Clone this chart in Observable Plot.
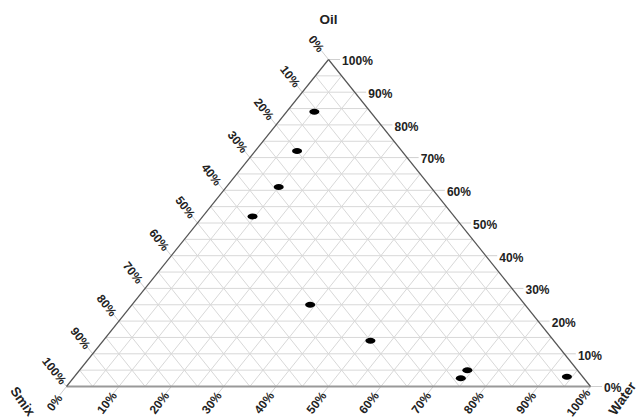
<!DOCTYPE html>
<html>
<head>
<meta charset="utf-8">
<script src="https://cdn.jsdelivr.net/npm/d3@7"></script>
<script src="https://cdn.jsdelivr.net/npm/@observablehq/plot@0.6"></script>
<style>
  html, body { margin: 0; padding: 0; background: #fff; }
  svg { display: block; }
</style>
</head>
<body>
<div id="chart"></div>
<script>
// Sample compositions (%): Oil, Water, Smix
const oil   = [84, 72, 61, 52, 25, 14, 5, 2.5, 3];
const water = [5.3, 8, 10, 9.5, 34, 51, 74, 74, 94];
const smix  = [10.7, 20, 29, 38.5, 41, 35, 21, 23.5, 3];

// Axis tick values and labels
const gridSteps = d3.range(5, 100, 5);
const labelSteps = d3.range(0, 101, 10);
const tickLabels = labelSteps.map(v => v + "%");
const cornerNames = ["Oil", "Smix", "Water"];

// ternary -> cartesian (x in [0,1], y in [0,1])
const tx = (o, w) => w + 0.5 * o;
const ty = (o) => o;

const points = oil.map((o, i) => ({ oil: o / 100, water: water[i] / 100, smix: smix[i] / 100 }))
  .map(d => ({ ...d, x: tx(d.oil, d.water), y: ty(d.oil) }));

// grid lines
const grid = [];
for (const p of gridSteps) {
  const v = p / 100;
  grid.push({ x1: 0.5 * v, y1: v, x2: 1 - 0.5 * v, y2: v });           // constant oil
  grid.push({ x1: v, y1: 0, x2: 0.5 + 0.5 * v, y2: 1 - v });            // constant water
  grid.push({ x1: 0.5 * (1 - v), y1: 1 - v, x2: 1 - v, y2: 0 });        // constant smix
}

const kT = 0.026, kL = 0.05;
const oilTicks = labelSteps.map((p, i) => {
  const v = p / 100;
  return { x1: 1 - 0.5 * v, y1: v, x2: 1 - 0.5 * v + 0.022, y2: v, lx: 1 - 0.5 * v + 0.026, ly: v, label: tickLabels[i] };
});
const waterTicks = labelSteps.map((p, i) => {
  const v = p / 100;
  return { x1: v, y1: 0, x2: v - 0.5 * kT, y2: -kT, lx: v - 0.5 * kL * 0.9, ly: -kL, label: tickLabels[i] };
});
const smixTicks = labelSteps.map((p, i) => {
  const v = p / 100;
  const x = 0.5 * (1 - v), y = 1 - v;
  return { x1: x, y1: y, x2: x - 0.5 * kT, y2: y + kT, lx: x - 0.5 * kL * 0.95, ly: y + kL * 0.95, label: tickLabels[i] };
});

const edges = [
  { x1: 0, y1: 0, x2: 0.5, y2: 1 },
  { x1: 0.5, y1: 1, x2: 1, y2: 0 }
];
const bottomEdge = [{ x1: 0, y1: 0, x2: 1, y2: 0 }];

const cornerOil = [{ x: 0.5, y: 1, name: cornerNames[0] }];
const cornerSmix = [{ x: 0, y: 0, name: cornerNames[1] }];
const cornerWater = [{ x: 1, y: 0, name: cornerNames[2] }];

// ellipse-shaped dot symbol
const ellipse = {
  draw(context, size) {
    const r = Math.sqrt(size / Math.PI);
    const rx = r, ry = r * 0.6, k = 0.5523;
    context.moveTo(rx, 0);
    context.bezierCurveTo(rx, ry * k, rx * k, ry, 0, ry);
    context.bezierCurveTo(-rx * k, ry, -rx, ry * k, -rx, 0);
    context.bezierCurveTo(-rx, -ry * k, -rx * k, -ry, 0, -ry);
    context.bezierCurveTo(rx * k, -ry, rx, -ry * k, rx, 0);
    context.closePath();
  }
};

const font = "Liberation Sans, Arial, sans-serif";
const labelStyle = { fontSize: 12, fontWeight: "bold", fill: "#222" };
const cornerStyle = { x: "x", y: "y", text: "name", fontSize: 13.5, fontWeight: "bold", fill: "#222" };

const chart = Plot.plot({
  width: 644,
  height: 420,
  marginLeft: 66,
  marginRight: 54,
  marginTop: 59,
  marginBottom: 34,
  x: { domain: [0, 1], axis: null },
  y: { domain: [0, 1], axis: null },
  style: { background: "#fff", fontFamily: font, overflow: "visible" },
  marks: [
    Plot.link(grid, { x1: "x1", y1: "y1", x2: "x2", y2: "y2", stroke: "#d8d8d8", strokeWidth: 1 }),
    Plot.link(oilTicks, { x1: "x1", y1: "y1", x2: "x2", y2: "y2", stroke: "#cfcfcf", strokeWidth: 1 }),
    Plot.link(waterTicks, { x1: "x1", y1: "y1", x2: "x2", y2: "y2", stroke: "#cfcfcf", strokeWidth: 1 }),
    Plot.link(smixTicks, { x1: "x1", y1: "y1", x2: "x2", y2: "y2", stroke: "#cfcfcf", strokeWidth: 1 }),
    Plot.link(bottomEdge, { x1: "x1", y1: "y1", x2: "x2", y2: "y2", stroke: "#999", strokeWidth: 2 }),
    Plot.link(edges, { x1: "x1", y1: "y1", x2: "x2", y2: "y2", stroke: "#555", strokeWidth: 1.2 }),
    Plot.text(oilTicks, { x: "lx", y: "ly", text: "label", textAnchor: "start", dy: 2, ...labelStyle }),
    Plot.text(waterTicks, { x: "lx", y: "ly", text: "label", rotate: -52, ...labelStyle }),
    Plot.text(smixTicks, { x: "lx", y: "ly", text: "label", rotate: 52, ...labelStyle }),
    Plot.text(cornerOil, { ...cornerStyle, dy: -40 }),
    Plot.text(cornerSmix, { ...cornerStyle, dx: -44, dy: 15, rotate: 55 }),
    Plot.text(cornerWater, { ...cornerStyle, dx: 32, dy: 12, rotate: -55 }),
    Plot.dot(points, { x: "x", y: "y", r: 5, symbol: ellipse, fill: "#000", stroke: "none" })
  ]
});
document.getElementById("chart").appendChild(chart);
</script>
</body>
</html>
